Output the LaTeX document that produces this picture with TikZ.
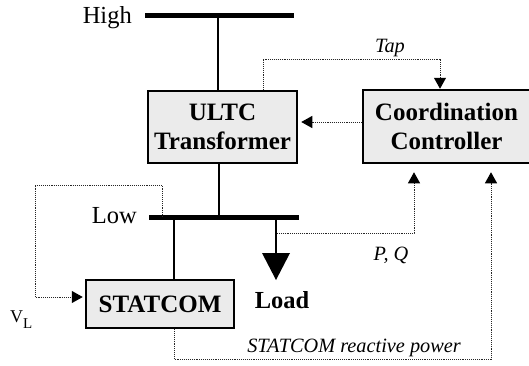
\documentclass[tikz,border=0pt]{standalone}
\usepackage{fontspec}
\setmainfont{Liberation Serif}
\usetikzlibrary{arrows.meta}
\definecolor{boxgray}{RGB}{235,235,235}
\begin{document}
\begin{tikzpicture}[x=1pt,y=-1pt,
  box/.style={draw, line width=2.5pt, fill=boxgray, align=center,
    font=\bfseries\fontsize{25}{29}\selectfont, inner sep=0pt},
  bus/.style={line width=5pt},
  wire/.style={line width=1.3pt},
  sig/.style={line width=1pt, black!85, dash pattern=on 1pt off 0.9pt},
  sigarrow/.style={sig, -{Triangle[length=11pt,width=12pt,color=black]}},
  lbl/.style={font=\fontsize{24.5}{28}\selectfont, inner sep=0pt},
  ilbl/.style={font=\itshape\fontsize{20.3}{24}\selectfont, inner sep=0pt},
  blbl/.style={font=\bfseries\fontsize{24.5}{29}\selectfont, inner sep=0pt}]
\useasboundingbox (0,0) rectangle (529,365);

% boxes
\node[box, minimum width=149pt, minimum height=72pt] (ultc) at (222.5,127) {ULTC\\Transformer};
\node[box, minimum width=167pt, minimum height=73pt] (cc) at (446.5,126.5) {Coordination\\Controller};
\node[box, minimum width=148pt, minimum height=48pt] (st) at (160,304) {STATCOM};

% buses
\coordinate (hA) at (145,15); \coordinate (hB) at (294,15);
\draw[bus] (hA) -- (hB);
\coordinate (lA) at (149,217); \coordinate (lB) at (299,217);
\draw[bus] (lA) -- (lB);

% power wires
\coordinate (hT) at (218,15);
\draw[wire] (hT) -- (hT |- ultc.north);
\coordinate (lT) at (219,217);
\draw[wire] (ultc.south -| lT) -- (lT);
\coordinate (lS) at (174,217);
\draw[wire] (lS) -- (lS |- st.north);
\coordinate (lL) at (276,217); \coordinate (ldTop) at (276,253);
\draw[wire] (lL) -- (ldTop);
\coordinate (ld1) at (262,253); \coordinate (ld2) at (290,253); \coordinate (ld3) at (276,280);
\fill (ld1) -- (ld2) -- (ld3) -- cycle;

% signals
\coordinate (tpA) at (263,59); \coordinate (tpB) at (440,59);
\draw[sigarrow] (ultc.north -| tpA) -- (tpA) -- (tpB) -- (tpB |- cc.north);
\coordinate (cy) at (0,122);
\draw[sigarrow, shorten >=3pt] (cy -| cc.west) -- (cy -| ultc.east);
\coordinate (lp1) at (162,185); \coordinate (lp2) at (35,185); \coordinate (lp3) at (35,297);
\draw[sigarrow, shorten >=2pt] (lp1 |- lA) -- (lp1) -- (lp2) -- (lp3) -- (lp3 -| st.west);
\coordinate (pq1) at (277,233); \coordinate (pq2) at (414,233);
\draw[sigarrow, shorten >=8pt] (pq1) -- (pq2) -- (pq2 |- cc.south);
\coordinate (rp1) at (174,359); \coordinate (rp2) at (491,359);
\draw[sigarrow, shorten >=8pt] (st.south -| rp1) -- (rp1) -- (rp2) -- (rp2 |- cc.south);

% labels
\node[lbl, anchor=base east] (high) at (132,23) {High};
\node[lbl, anchor=base east] (low) at (137,223) {Low};
\node[ilbl, anchor=base] (tap) at (390,52) {Tap};
\node[ilbl, anchor=base] (pq) at (391,260) {P, Q};
\node[ilbl, anchor=base] (rpl) at (354,352) {STATCOM reactive power};
\node[blbl, anchor=base] (load) at (282,308) {Load};
\node[inner sep=0pt, anchor=base west, font=\fontsize{18}{20}\selectfont] (vl) at (10,322)
  {V\raisebox{-6pt}{\fontsize{15}{16}\selectfont L}};
\end{tikzpicture}
\end{document}
